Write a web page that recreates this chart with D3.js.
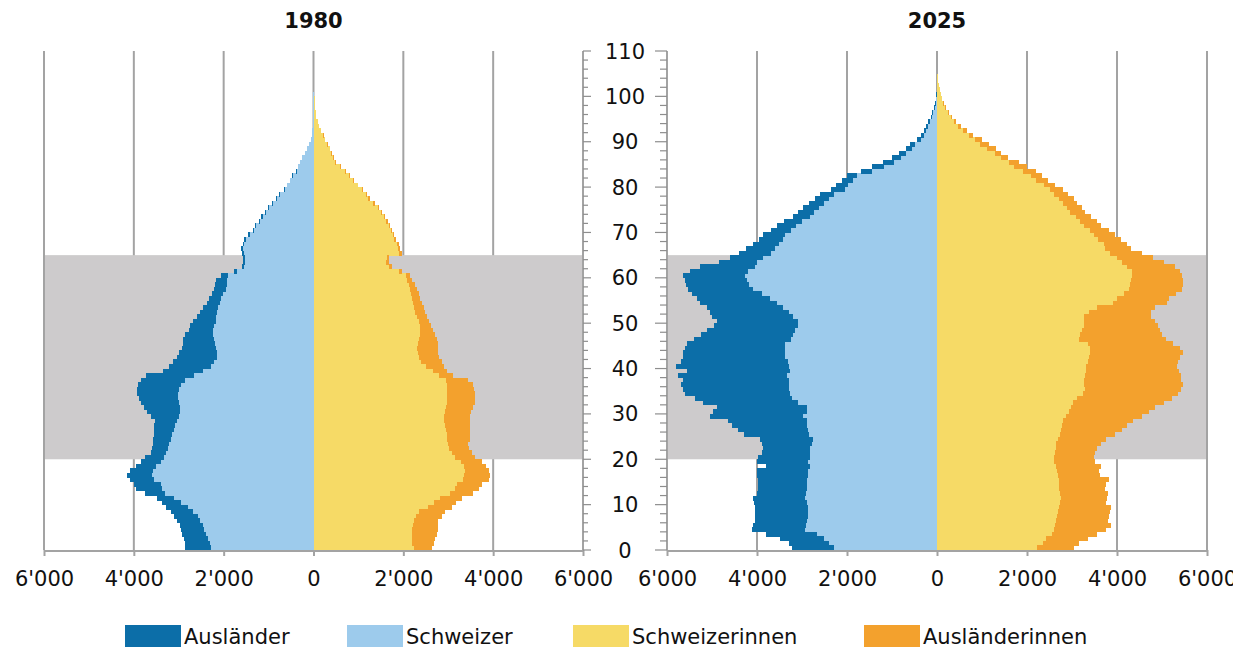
<!DOCTYPE html>
<html><head><meta charset="utf-8">
<script src="https://cdn.jsdelivr.net/npm/d3@7"></script>
<style>body{margin:0;background:#fff}svg{display:block}text{font-family:"DejaVu Sans",sans-serif}</style>
</head><body><svg id="c" width="1233" height="650"></svg>
<script>
const ages = d3.range(0, 105);
const years = ["1980", "2025"];
const legendLabels = ["Ausländer", "Schweizer", "Schweizerinnen", "Ausländerinnen"];
const xTickValues = [-6000, -4000, -2000, 0, 2000, 4000, 6000];
const yTickValues = [0, 10, 20, 30, 40, 50, 60, 70, 80, 90, 100, 110];
const bandAges = [20, 65];

// 1980 men
const m1980Swiss = [2280,2300,2350,2400,2430,2470,2530,2580,2680,2800,2950,3100,3300,3370,3400,3550,3600,3580,3500,3400,3330,3280,3250,3210,3180,3140,3100,3080,3040,3000,2970,2970,3000,3020,3020,3000,2950,2850,2650,2450,2280,2220,2150,2150,2180,2200,2220,2230,2240,2220,2180,2160,2140,2120,2090,2060,2010,1950,1930,1920,1900,1700,1550,1520,1520,1550,1570,1540,1500,1420,1320,1270,1190,1130,1050,990,900,810,740,645,585,515,455,370,340,290,250,195,145,97,58,39,29,19,14,10,7,5,3,2,1,0,0,0,0];
const m1980Foreign = [590,550,530,520,520,500,500,520,500,480,420,380,450,590,600,530,550,500,450,450,420,340,350,370,400,420,450,470,480,620,730,810,850,860,910,920,950,1000,1080,910,940,900,900,850,750,710,690,620,530,520,510,440,380,330,290,260,260,270,270,260,150,80,50,40,40,50,40,40,40,30,30,30,30,30,30,30,20,20,20,15,15,15,15,10,10,10,10,5,5,3,2,1,1,1,1,0,0,0,0,0,0,0,0,0,0];
// 1980 women
const f1980Swiss = [2230,2200,2190,2190,2190,2210,2230,2280,2350,2550,2680,2820,3050,3150,3200,3320,3360,3380,3350,3280,3150,3080,3020,3000,2980,2970,2950,2930,2900,2900,2920,2950,2980,2970,2970,2970,2970,2950,2800,2650,2500,2400,2350,2320,2300,2320,2340,2370,2380,2360,2340,2300,2260,2230,2210,2190,2170,2150,2120,2090,2050,1900,1680,1620,1630,1900,1880,1860,1800,1770,1720,1670,1620,1560,1500,1430,1330,1220,1160,1080,980,890,800,710,600,480,440,400,360,310,260,220,160,120,90,60,50,40,30,25,20,10,5,3,0];
const f1980Foreign = [410,480,520,560,590,570,550,570,570,530,500,480,500,530,550,580,570,520,500,470,450,440,450,450,500,520,530,560,580,590,580,600,620,630,630,610,590,500,300,330,400,450,440,460,480,450,410,340,290,260,230,220,220,220,200,190,170,150,130,110,100,70,60,60,60,70,50,40,30,30,30,30,30,30,30,30,30,30,20,20,20,20,10,10,10,10,10,10,10,10,5,5,5,3,2,2,1,0,0,0,0,0,0,0,0];
// 2025 men
const m2025Swiss = [2300,2400,2520,2670,2930,2920,2900,2860,2860,2860,2880,2930,2920,2900,2900,2900,2870,2860,2820,2860,2820,2820,2820,2780,2750,2840,2860,2900,2900,2970,2900,2900,3100,3230,3270,3300,3300,3300,3340,3270,3300,3320,3380,3380,3380,3380,3250,3200,3150,3100,3080,3200,3300,3420,3560,3720,3900,4080,4180,4220,4270,4200,4050,4000,3870,3700,3600,3520,3430,3380,3250,3130,3010,2830,2730,2630,2520,2400,2300,2050,1970,1870,1780,1450,1170,950,800,680,560,480,350,280,240,190,150,110,90,55,30,20,10,5,0,0,0];
const m2025Foreign = [930,900,970,1120,1190,1160,1150,1190,1190,1190,1180,1150,1080,1070,1070,1070,1140,1140,970,1150,1150,1080,1040,1120,1190,1460,1560,1650,1750,2080,2070,2000,2100,2150,2330,2350,2380,2340,2410,2290,2490,2380,2260,2260,2220,2180,2150,2050,1970,1850,1820,1800,1740,1700,1710,1610,1550,1450,1400,1390,1370,1300,1220,850,730,700,650,580,520,480,450,420,400,370,350,340,330,320,300,300,280,250,220,250,280,250,200,170,140,120,100,80,60,50,40,30,20,15,10,5,5,0,0,0,0];
// 2025 women
const f2025Swiss = [2230,2350,2420,2550,2600,2620,2640,2660,2690,2710,2740,2750,2740,2720,2710,2710,2680,2660,2640,2600,2600,2620,2640,2640,2680,2740,2760,2780,2800,2860,2930,2970,3020,3100,3250,3280,3270,3270,3280,3300,3320,3360,3380,3400,3400,3360,3160,3180,3220,3260,3270,3270,3380,3550,3900,4000,4150,4270,4290,4300,4330,4340,4220,4100,4000,3850,3740,3710,3580,3480,3400,3270,3170,3080,2950,2880,2800,2720,2600,2500,2380,2200,2080,1900,1720,1600,1420,1280,1120,960,850,700,580,470,380,300,240,180,140,110,80,60,40,30,20];
const f2025Foreign = [810,800,930,1000,1150,1240,1150,1160,1150,1150,1020,1020,1050,1020,1050,1110,940,940,1000,900,890,880,920,1010,1070,1210,1340,1450,1550,1690,1780,1880,2030,2120,2100,2140,2190,2150,2140,2080,2020,2000,2020,2060,2000,1890,1920,1820,1730,1640,1580,1480,1370,1300,1200,1160,1150,1180,1170,1160,1110,1060,1060,950,800,700,580,520,500,470,430,370,380,340,340,340,320,330,300,300,240,260,260,300,280,220,160,150,180,190,150,100,80,60,50,30,20,20,10,10,10,0,0,0,0];

const colors = {mF:"#0c6ea8", mS:"#9dcbec", fS:"#f6da66", fF:"#f3a12d", band:"#cdcbcc", grid:"#a3a3a3", axis:"#8e8e8e"};
const legendColors = [colors.mF, colors.mS, colors.fS, colors.fF];

const panels = [
  {year:"1980", x0:44, x1:583, mS:m1980Swiss, mF:m1980Foreign, fS:f1980Swiss, fF:f1980Foreign},
  {year:"2025", x0:667, x1:1207, mS:m2025Swiss, mF:m2025Foreign, fS:f2025Swiss, fF:f2025Foreign}
];
const svg = d3.select("#c");
const y = d3.scaleLinear().domain([0,110]).range([550,51]);
const fmt = v => { const a = Math.abs(v); return a === 0 ? "0" : (Math.floor(a/1000) + "'" + String(a%1000).padStart(3,"0")); };
const FS = 21;

panels.forEach((p, pi) => {
  const x = d3.scaleLinear().domain([-6000,6000]).range([p.x0, p.x1]);
  const g = svg.append("g");
  g.selectAll("line.grid").data(xTickValues).enter().append("line")
    .attr("x1", d => x(d)).attr("x2", d => x(d)).attr("y1", y(110)).attr("y2", y(0))
    .attr("stroke", colors.grid).attr("stroke-width", 2);
  g.append("rect").attr("x", x(-6000)+1).attr("width", x(6000)-x(-6000)-2)
    .attr("y", y(bandAges[1])).attr("height", y(bandAges[0]) - y(bandAges[1])).attr("fill", colors.band);
  const h = y(0) - y(1);
  const bars = g.append("g").attr("shape-rendering","crispEdges");
  const add = (cls, fn0, fn1, col) => bars.selectAll("rect."+cls).data(ages).enter().append("rect")
    .attr("x", a => Math.min(x(fn0(a)), x(fn1(a)))).attr("width", a => Math.abs(x(fn1(a)) - x(fn0(a))))
    .attr("y", a => y(a+1)).attr("height", h + 0.4).attr("fill", col);
  add("ms", a => 0, a => -p.mS[a], colors.mS);
  add("mf", a => -p.mS[a], a => -(p.mS[a]+p.mF[a]), colors.mF);
  add("fs", a => 0, a => p.fS[a], colors.fS);
  add("ff", a => p.fS[a], a => p.fS[a]+p.fF[a], colors.fF);
  g.append("line").attr("x1", x(-6000)).attr("x2", x(6000)).attr("y1", y(0)+1).attr("y2", y(0)+1)
    .attr("stroke", colors.grid).attr("stroke-width", 2);
  const ax = d3.axisBottom(x).tickValues(xTickValues).tickFormat(fmt).tickSize(6);
  const axg = g.append("g").attr("transform", `translate(0,${y(0)})`).call(ax);
  axg.select(".domain").remove();
  axg.selectAll("line").attr("stroke", colors.grid).attr("stroke-width", 2);
  axg.selectAll("text").attr("font-size", FS).attr("fill", "#111").attr("y", 28).attr("dy", "0.36em");
  svg.append("text").attr("x", x(0)).attr("y", 20).attr("dy","0.36em").attr("text-anchor","middle")
    .attr("font-size", FS).attr("font-weight","bold").attr("fill","#111").text(p.year);
});

const yMinor = d3.range(0, 111, 2);
const ya = svg.append("g");
ya.append("line").attr("x1",583).attr("x2",583).attr("y1",y(110)).attr("y2",y(0)).attr("stroke",colors.grid).attr("stroke-width",2);
ya.append("line").attr("x1",667).attr("x2",667).attr("y1",y(110)).attr("y2",y(0)).attr("stroke",colors.grid).attr("stroke-width",2);
ya.selectAll("line.tl").data(yMinor).enter().append("line")
  .attr("x1",583).attr("x2", d => d%10===0 ? 591 : 588).attr("y1", d=>y(d)).attr("y2", d=>y(d)).attr("stroke",colors.axis).attr("stroke-width",1.2);
ya.selectAll("line.tr").data(yMinor).enter().append("line")
  .attr("x1",667).attr("x2", d => d%10===0 ? 655 : 660).attr("y1", d=>y(d)).attr("y2", d=>y(d)).attr("stroke",colors.axis).attr("stroke-width",1.2);
ya.selectAll("text").data(yTickValues).enter().append("text")
  .attr("x", 625).attr("y", d => y(d)).attr("dy","0.36em").attr("text-anchor","middle")
  .attr("font-size", FS).attr("fill","#111").text(d => d);

const legX = [125, 347, 573, 864];
const lg = svg.append("g");
legendLabels.forEach((l, i) => {
  lg.append("rect").attr("x", legX[i]).attr("y", 625).attr("width", 56).attr("height", 22).attr("fill", legendColors[i]);
  lg.append("text").attr("x", legX[i]+59).attr("y", 636).attr("dy","0.36em").attr("font-size", FS).attr("fill","#111").text(l);
});
</script></body></html>
